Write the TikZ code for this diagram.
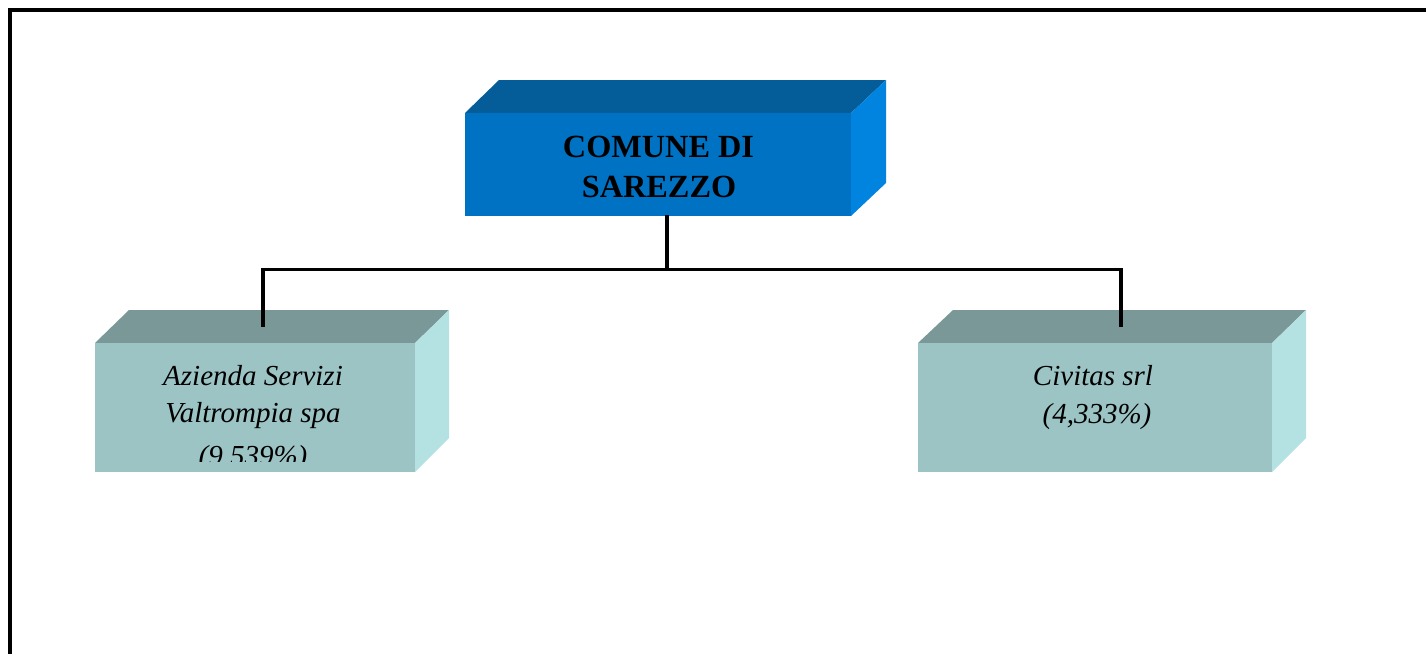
\documentclass[tikz,border=0pt]{standalone}
\usepackage{fontspec}
\setmainfont{Liberation Serif}
\definecolor{bfront}{RGB}{0,114,196}
\definecolor{btop}{RGB}{4,92,152}
\definecolor{bside}{RGB}{0,132,224}
\definecolor{tfront}{RGB}{156,196,196}
\definecolor{ttop}{RGB}{122,152,152}
\definecolor{tside}{RGB}{180,226,226}
\begin{document}
\begin{tikzpicture}[x=1pt,y=-1pt,
  face/.style={draw=none},
  conn/.style={line width=3.5pt,black,line cap=rect},
  boldtxt/.style={anchor=base,inner sep=0pt,font=\fontsize{32.3}{40}\selectfont\bfseries},
  ittxt/.style={anchor=base,inner sep=0pt,font=\fontsize{29}{37}\selectfont\itshape}]
\useasboundingbox (0,0) rectangle (1426,653);
\begin{scope}
\clip (0,0) rectangle (1426,653);
\draw[line width=4pt] (9.5,10) rectangle (1460,700);
\end{scope}
% top box
\fill[btop] (465,113) -- (499,80) -- (886,80) -- (851,113) -- cycle;
\fill[bside] (851,113) -- (886,80) -- (886,183) -- (851,216) -- cycle;
\node[face,fill=bfront,anchor=north west,inner sep=0pt,minimum width=386pt,minimum height=103pt] (top) at (465,113) {};
\node[boldtxt] (top1) at (658.5,157) {COMUNE DI};
\node[boldtxt] (top2) at (659,197) {SAREZZO};
% left box
\fill[ttop] (95,343) -- (129,310) -- (449,310) -- (415,343) -- cycle;
\fill[tside] (415,343) -- (449,310) -- (449,438) -- (415,472) -- cycle;
\node[face,fill=tfront,anchor=north west,inner sep=0pt,minimum width=320pt,minimum height=129pt] (az) at (95,343) {};
\begin{scope}
\clip (95,343) rectangle (415,461.5);
\node[ittxt] (az1) at (253,385) {Azienda Servizi};
\node[ittxt] (az2) at (253,422) {Valtrompia spa};
\node[ittxt] (az3) at (253,465) {(9.539\%)};
\end{scope}
% right box
\fill[ttop] (918,343) -- (953,310) -- (1306,310) -- (1272,343) -- cycle;
\fill[tside] (1272,343) -- (1306,310) -- (1306,438) -- (1272,472) -- cycle;
\node[face,fill=tfront,anchor=north west,inner sep=0pt,minimum width=354pt,minimum height=129pt] (civ) at (918,343) {};
\node[ittxt] (civ1) at (1093,385) {Civitas srl};
\node[ittxt] (civ2) at (1097,423) {(4,333\%)};
% connectors
\coordinate (j) at (667,269.5);
\coordinate (azT) at (263,325);
\coordinate (civT) at (1121,325);
\draw[conn] (top.south -| j) -- (j);
\draw[conn] (azT) |- (j) -| (civT);
\end{tikzpicture}
\end{document}
